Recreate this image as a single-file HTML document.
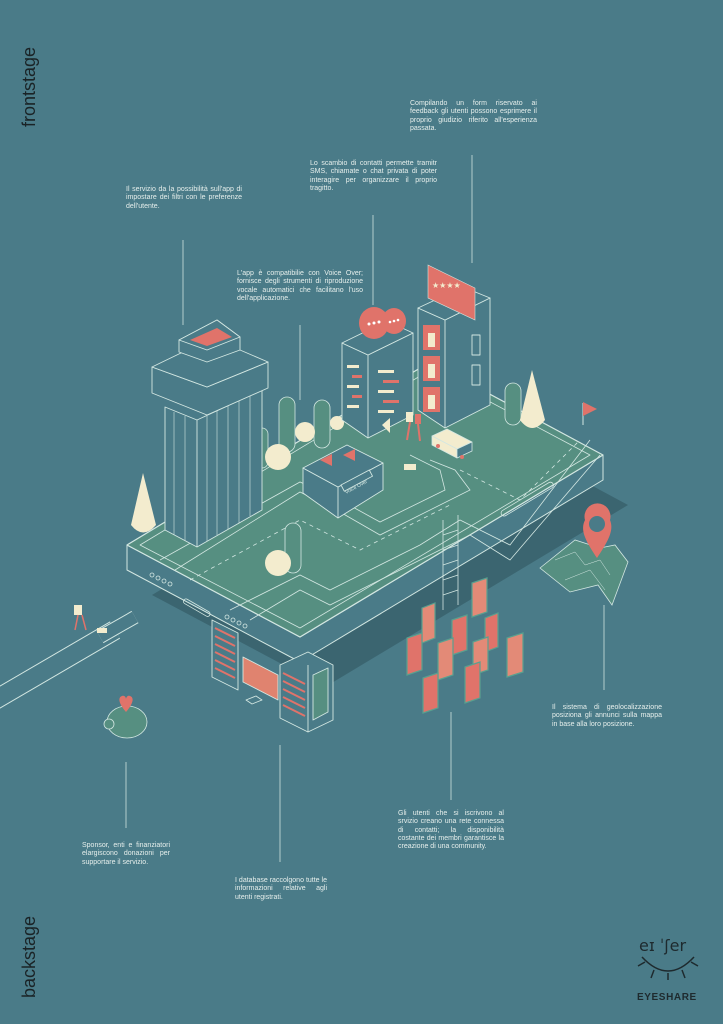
<!DOCTYPE html>
<html><head><meta charset="utf-8"><style>
html,body{margin:0;padding:0}
body{width:723px;height:1024px;background:#4a7b88;position:relative;overflow:hidden;font-family:"Liberation Sans",sans-serif}
.t{position:absolute;color:#e6efec;font-size:7px;line-height:8.3px;text-align:justify;text-align-last:left}
.v{position:absolute;color:#1a2326;font-size:18px;transform:rotate(-90deg);transform-origin:left top;white-space:nowrap}
svg{position:absolute;left:0;top:0}
</style></head><body>
<svg width="723" height="1024" viewBox="0 0 723 1024">
<g stroke="#cfe3df" stroke-width="0.8" fill="none">
<line x1="183" y1="240" x2="183" y2="325"/>
<line x1="373" y1="215" x2="373" y2="305"/>
<line x1="472" y1="155" x2="472" y2="263"/>
<line x1="300" y1="325" x2="300" y2="400"/>
<line x1="126" y1="762" x2="126" y2="828"/>
<line x1="280" y1="745" x2="280" y2="862"/>
<line x1="451" y1="712" x2="451" y2="800"/>
<line x1="604" y1="605" x2="604" y2="690"/>
</g>
<polygon points="152,595 455,412 628,505 325,687" fill="#3b6570"/>
<polygon points="127,545 300,637 603,455 603,480 300,662 127,570" fill="#4a7b88" stroke="#d3e7e2" stroke-width="1" stroke-linejoin="round"/>
<polygon points="127,545 430,362 603,455 300,637" fill="#568f81" stroke="#d3e7e2" stroke-width="1.2" stroke-linejoin="round"/>
<polygon points="140,545 430,370 590,455 300,628" fill="none" stroke="#d3e7e2" stroke-width="0.8" stroke-linejoin="round"/>
<g fill="none" stroke="#d3e7e2" stroke-width="0.8">
<circle cx="152" cy="575" r="2"/><circle cx="158" cy="578" r="2"/><circle cx="164" cy="581" r="2"/><circle cx="170" cy="584" r="2"/>
<circle cx="227" cy="617" r="2"/><circle cx="233" cy="620" r="2"/><circle cx="239" cy="623" r="2"/><circle cx="245" cy="626" r="2"/>
<rect x="500" y="512" width="60" height="6" rx="3" transform="rotate(-31 500 512)"/>
<rect x="185" y="598" width="30" height="5" rx="2.5" transform="rotate(30 185 598)"/>
<polyline points="160,560 300,482 340,500 380,522 445,490 440,470 410,455"/>
<polyline points="175,570 300,492 340,512 380,535 470,490 455,470 430,460"/>
<polyline points="230,610 300,575 330,590 370,570 420,545 460,520 510,545 590,440"/>
<polyline points="250,620 300,590 330,605 370,585 420,560 470,535 510,560 600,455"/>
<polyline points="460,470 520,500 580,440" stroke-dasharray="4 4"/>
<polyline points="190,580 300,520 360,550 450,505" stroke-dasharray="4 4"/>
<line x1="443" y1="520" x2="443" y2="610"/><line x1="458" y1="515" x2="458" y2="605"/>
<line x1="443" y1="535" x2="458" y2="530"/><line x1="443" y1="550" x2="458" y2="545"/><line x1="443" y1="565" x2="458" y2="560"/><line x1="443" y1="580" x2="458" y2="575"/><line x1="443" y1="595" x2="458" y2="590"/>
</g>
<g stroke="#d3e7e2" stroke-width="0.8">
<rect x="279" y="397" width="16" height="55" rx="8" fill="#568f81"/>
<rect x="314" y="400" width="16" height="48" rx="8" fill="#568f81"/>
<rect x="505" y="383" width="16" height="42" rx="8" fill="#568f81"/>
<rect x="285" y="523" width="16" height="50" rx="8" fill="#568f81"/>
<rect x="256" y="428" width="12" height="40" rx="6" fill="#568f81"/>
</g>
<g fill="#f3ecce">
<circle cx="278" cy="457" r="13"/><circle cx="305" cy="432" r="10"/><circle cx="337" cy="423" r="7"/><circle cx="278" cy="563" r="13"/>
<path d="M143,473 L131,525 Q143,540 156,525 Z"/>
<path d="M532,370 L520,420 Q532,436 545,420 Z"/>
</g>
<g stroke="#d3e7e2" stroke-width="0.9" fill="#4a7b88" stroke-linejoin="round">
<polygon points="165,407 197,420 262,390 262,510 197,547 165,530"/>
<line x1="197" y1="420" x2="197" y2="547"/>
<g fill="none" stroke-width="0.6">
<line x1="174" y1="412" x2="174" y2="535"/><line x1="185" y1="416" x2="185" y2="541"/>
<line x1="207" y1="416" x2="207" y2="541"/><line x1="217" y1="411" x2="217" y2="535"/><line x1="228" y1="405" x2="228" y2="529"/><line x1="239" y1="400" x2="239" y2="523"/><line x1="250" y1="395" x2="250" y2="516"/>
</g>
<polygon points="152,367 207,387 268,362 268,388 207,415 152,393"/>
<polygon points="152,367 212,338 268,362 207,387"/>
<polygon points="179,340 217,320 240,337 240,350 207,362 179,352"/>
<polygon points="179,340 217,320 240,337 207,350" fill="#4a7b88"/>
<polygon points="190,340 217,328 232,337 207,346" fill="#e0736a" stroke="none"/>
</g>
<g stroke="#d3e7e2" stroke-width="0.9" fill="#4a7b88" stroke-linejoin="round">
<polygon points="342,343 368,355 413,333 413,415 368,438 342,420"/>
<polygon points="342,343 387,321 413,333 368,355"/>
<line x1="368" y1="355" x2="368" y2="438"/>
</g>
<g fill="#f3ecce"><rect x="347" y="365" width="12" height="3"/><rect x="347" y="385" width="12" height="3"/><rect x="347" y="405" width="12" height="3"/><rect x="378" y="370" width="16" height="3"/><rect x="378" y="390" width="16" height="3"/><rect x="378" y="410" width="16" height="3"/></g>
<g fill="#e0736a"><rect x="352" y="375" width="10" height="3"/><rect x="352" y="395" width="10" height="3"/><rect x="383" y="380" width="16" height="3"/><rect x="383" y="400" width="16" height="3"/></g>
<ellipse cx="374" cy="323" rx="15" ry="16" fill="#e0736a"/>
<ellipse cx="394" cy="321" rx="12" ry="13" fill="#e0736a"/>
<g fill="#fff"><circle cx="369" cy="324" r="1.5"/><circle cx="374" cy="323" r="1.5"/><circle cx="379" cy="322" r="1.5"/><circle cx="390" cy="322" r="1.3"/><circle cx="394" cy="321" r="1.3"/><circle cx="398" cy="320" r="1.3"/></g>
<g stroke="#d3e7e2" stroke-width="0.9" fill="#4a7b88" stroke-linejoin="round">
<polygon points="418,308 445,320 490,298 490,405 445,428 418,410"/>
<polygon points="418,308 463,287 490,298 445,320"/>
<line x1="445" y1="320" x2="445" y2="428"/>
<rect x="472" y="335" width="8" height="20" fill="none"/><rect x="472" y="365" width="8" height="20" fill="none"/>
</g>
<g fill="#e0736a"><rect x="423" y="325" width="17" height="25"/><rect x="423" y="356" width="17" height="25"/><rect x="423" y="387" width="17" height="25"/></g>
<g fill="#f3ecce"><rect x="428" y="333" width="7" height="14"/><rect x="428" y="364" width="7" height="14"/><rect x="428" y="395" width="7" height="14"/></g>
<polygon points="428,265 475,288 475,320 428,298" fill="#e0736a" stroke="#d3e7e2" stroke-width="0.6"/>
<text x="432" y="288" fill="#f3ecce" font-size="8" font-family="DejaVu Sans">★★★★</text>
<g stroke="#d3e7e2" stroke-width="0.9" fill="#4a7b88" stroke-linejoin="round">
<polygon points="303,468 338,487 383,463 383,490 338,518 303,493"/>
<polygon points="303,468 347,445 383,463 338,487"/>
<line x1="338" y1="487" x2="338" y2="518"/>
<rect x="341" y="485" width="32" height="7" transform="rotate(-28 341 485)"/>
</g>
<text x="346" y="494" font-size="5" fill="#d3e7e2" transform="rotate(-28 346 494)">Voice Over</text>
<path d="M320,460 l12,-6 l0,12 z" fill="#e0736a"/><path d="M343,455 l12,-6 l0,12 z" fill="#e0736a"/>
<rect x="406" y="412" width="7" height="10" fill="#f3ecce"/><line x1="410" y1="422" x2="407" y2="440" stroke="#e0736a" stroke-width="2"/>
<rect x="415" y="414" width="6" height="10" fill="#e0736a"/><line x1="418" y1="424" x2="420" y2="441" stroke="#e0736a" stroke-width="2"/>
<g stroke="#d3e7e2" stroke-width="0.8" stroke-linejoin="round">
<polygon points="432,436 447,429 472,442 457,449" fill="#f3ecce"/>
<polygon points="432,436 457,449 457,458 432,445" fill="#f3ecce"/>
<polygon points="457,449 472,442 472,451 457,458" fill="#4a7b88"/>
</g>
<circle cx="438" cy="446" r="2" fill="#e0736a"/><circle cx="462" cy="457" r="2" fill="#e0736a"/>
<rect x="404" y="464" width="12" height="6" fill="#f3ecce"/>
<line x1="583" y1="403" x2="583" y2="425" stroke="#d3e7e2"/><path d="M583,402 l14,7 l-14,7z" fill="#e0736a"/>
<path d="M390,418 l-8,7 l8,8z" fill="#f3ecce"/>
<g stroke="#d3e7e2" stroke-width="0.9" fill="#4a7b88" stroke-linejoin="round">
<polygon points="212,620 238,633 238,690 212,677"/>
<polygon points="243,657 278,675 278,700 243,682" fill="#e0836f"/>
<polygon points="280,665 308,652 333,665 333,720 308,732 280,718"/>
<line x1="308" y1="665" x2="308" y2="732"/>
<polygon points="313,675 328,668 328,712 313,720" fill="#568f81"/>
<polygon points="246,700 256,696 262,700 252,704" fill="none"/>
</g>
<g stroke="#e0736a" stroke-width="2">
<line x1="215" y1="628" x2="235" y2="638"/><line x1="215" y1="636" x2="235" y2="646"/><line x1="215" y1="644" x2="235" y2="654"/><line x1="215" y1="652" x2="235" y2="662"/><line x1="215" y1="660" x2="235" y2="670"/><line x1="215" y1="668" x2="235" y2="678"/>
<line x1="283" y1="673" x2="305" y2="684"/><line x1="283" y1="681" x2="305" y2="692"/><line x1="283" y1="689" x2="305" y2="700"/><line x1="283" y1="697" x2="305" y2="708"/><line x1="283" y1="705" x2="305" y2="716"/>
</g>
<g stroke="#5aa08f" stroke-width="1.2">
<polygon points="422,608 435,603 435,638 422,643" fill="#e38a77"/>
<polygon points="472,583 487,578 487,612 472,617" fill="#e38a77"/>
<polygon points="452,620 467,615 467,650 452,655" fill="#e0736a"/>
<polygon points="485,618 498,613 498,647 485,652" fill="#e0736a"/>
<polygon points="407,638 422,633 422,670 407,675" fill="#e0736a"/>
<polygon points="438,643 453,638 453,675 438,680" fill="#e38a77"/>
<polygon points="473,642 488,637 488,670 473,675" fill="#e38a77"/>
<polygon points="507,638 523,633 523,672 507,677" fill="#e38a77"/>
<polygon points="423,678 438,673 438,708 423,713" fill="#e0736a"/>
<polygon points="465,667 480,662 480,698 465,703" fill="#e0736a"/>
</g>
<polygon points="540,568 575,540 600,548 615,545 628,562 612,605 598,585 570,592" fill="#568f81" stroke="#d3e7e2" stroke-width="0.8"/>
<g stroke="#d3e7e2" stroke-width="0.5" fill="none"><polyline points="555,560 575,552 585,565 600,560 610,575"/><polyline points="565,580 590,570 605,590"/></g>
<path d="M597,558 C585,540 580,530 585,520 A13,13 0 1 1 610,520 C614,530 609,540 597,558Z" fill="#e0736a"/>
<circle cx="597" cy="524" r="8" fill="#4a7b88"/>
<polyline points="-5,700 115,630" stroke="#d3e7e2" stroke-width="20" fill="none"/>
<polyline points="-5,700 115,630" stroke="#4a7b88" stroke-width="18" fill="none"/>
<polyline points="100,637 135,617" stroke="#d3e7e2" stroke-width="14" fill="none"/>
<polyline points="100,637 135,617" stroke="#4a7b88" stroke-width="12" fill="none"/>
<rect x="74" y="605" width="8" height="10" fill="#f3ecce"/><line x1="78" y1="615" x2="75" y2="630" stroke="#e0736a" stroke-width="1.5"/><line x1="82" y1="615" x2="86" y2="630" stroke="#e0736a" stroke-width="1.5"/>
<rect x="97" y="628" width="10" height="5" fill="#f3ecce"/>
<ellipse cx="127" cy="722" rx="20" ry="16" fill="#568f81" stroke="#d3e7e2" stroke-width="0.8"/>
<circle cx="109" cy="724" r="5" fill="#568f81" stroke="#d3e7e2" stroke-width="0.8"/>
<path d="M126,712 C118,703 118,697 122,696 C125,695 126,698 126,699 C126,698 127,695 130,696 C134,697 134,703 126,712Z" fill="#e0736a"/>
<g stroke="#1e2a2e" stroke-width="1.5" fill="none">
<path d="M642,957 Q668,985 694,957"/>
<line x1="645" y1="962" x2="638" y2="966"/><line x1="654" y1="970" x2="651" y2="978"/><line x1="668" y1="973" x2="668" y2="980"/><line x1="682" y1="970" x2="685" y2="978"/><line x1="691" y1="962" x2="698" y2="966"/>
</g>
<text x="639" y="951" font-size="16" fill="#1e2a2e" font-family="DejaVu Sans">eɪ ˈʃer</text>
<text x="637" y="1000" font-size="10" font-weight="bold" fill="#1e2a2e" letter-spacing="0.6">EYESHARE</text>
</svg>
<div class="v" style="left:19px;top:127px">frontstage</div>
<div class="v" style="left:19px;top:998px">backstage</div>
<div class="t" style="left:410px;top:100px;width:127px">Compilando un form riservato ai feedback gli utenti possono esprimere il proprio giudizio riferito all'esperienza passata.</div>
<div class="t" style="left:310px;top:160px;width:127px">Lo scambio di contatti permette tramitr SMS, chiamate o chat privata di poter interagire per organizzare il proprio tragitto.</div>
<div class="t" style="left:126px;top:186px;width:116px">Il servizio da la possibilità sull'app di impostare dei filtri con le preferenze dell'utente.</div>
<div class="t" style="left:237px;top:270px;width:126px">L'app è compatibilie con Voice Over; fornisce degli strumenti di riproduzione vocale automatici che facilitano l'uso dell'applicazione.</div>
<div class="t" style="left:552px;top:704px;width:110px">Il sistema di geolocalizzazione posiziona gli annunci sulla mappa in base alla loro posizione.</div>
<div class="t" style="left:398px;top:810px;width:106px">Gli utenti che si iscrivono al srvizio creano una rete connessa di contatti; la disponibilità costante dei membri garantisce la creazione di una community.</div>
<div class="t" style="left:82px;top:842px;width:88px">Sponsor, enti e finanziatori elargiscono donazioni per supportare il servizio.</div>
<div class="t" style="left:235px;top:877px;width:92px">I database raccolgono tutte le informazioni relative agli utenti registrati.</div>
</body></html>
